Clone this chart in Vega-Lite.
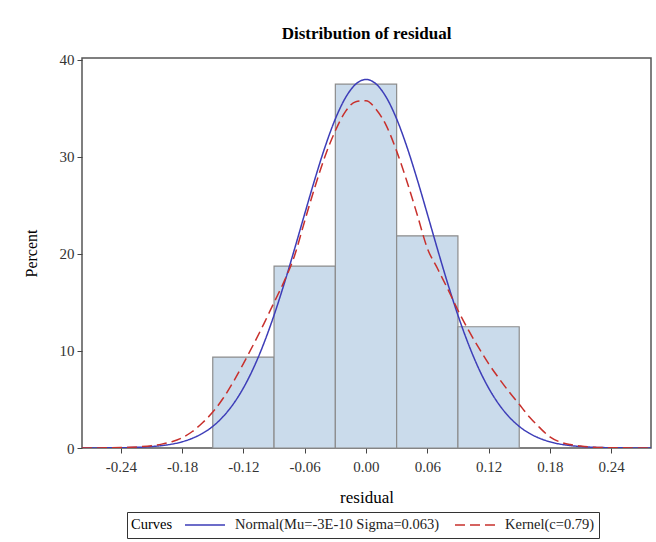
{
  "$schema": "https://vega.github.io/schema/vega-lite/v6.json",
  "autosize": "none",
  "width": 569,
  "height": 390,
  "padding": {"left": 82, "top": 58, "right": 5, "bottom": 94},
  "background": "white",
  "title": {"text": "Distribution of residual", "font": "Liberation Serif", "fontSize": 17, "fontWeight": "bold", "color": "#000", "offset": 10, "anchor": "middle"},
  "config": {
    "view": {"stroke": "#555", "strokeWidth": 1.5},
    "axis": {"labelFont": "Liberation Serif", "titleFont": "Liberation Serif", "labelFontSize": 15, "titleFontSize": 16, "titleFontWeight": "normal", "labelColor": "#333", "titleColor": "#000", "tickColor": "#444", "tickSize": 5, "grid": false, "domain": false},
    "legend": {"labelFont": "Liberation Serif", "titleFont": "Liberation Serif", "labelFontSize": 14.5, "titleFontSize": 14.5, "titleFontWeight": "normal", "labelColor": "#222", "titleColor": "#000", "labelLimit": 0}
  },
  "datasets": {
    "bars": [
      {"start": -0.15, "end": -0.09, "pct": 9.375},
      {"start": -0.09, "end": -0.03, "pct": 18.75},
      {"start": -0.03, "end": 0.03, "pct": 37.5},
      {"start": 0.03, "end": 0.09, "pct": 21.875},
      {"start": 0.09, "end": 0.15, "pct": 12.5}
    ],
    "curves": [
      {"x": -0.278, "pct": 0.003, "curve": "Normal(Mu=-3E-10 Sigma=0.063)"},
      {"x": -0.25, "pct": 0.016, "curve": "Normal(Mu=-3E-10 Sigma=0.063)"},
      {"x": -0.24, "pct": 0.027, "curve": "Normal(Mu=-3E-10 Sigma=0.063)"},
      {"x": -0.23, "pct": 0.05, "curve": "Normal(Mu=-3E-10 Sigma=0.063)"},
      {"x": -0.22, "pct": 0.085, "curve": "Normal(Mu=-3E-10 Sigma=0.063)"},
      {"x": -0.21, "pct": 0.15, "curve": "Normal(Mu=-3E-10 Sigma=0.063)"},
      {"x": -0.2, "pct": 0.25, "curve": "Normal(Mu=-3E-10 Sigma=0.063)"},
      {"x": -0.19, "pct": 0.4, "curve": "Normal(Mu=-3E-10 Sigma=0.063)"},
      {"x": -0.18, "pct": 0.64, "curve": "Normal(Mu=-3E-10 Sigma=0.063)"},
      {"x": -0.17, "pct": 1.0, "curve": "Normal(Mu=-3E-10 Sigma=0.063)"},
      {"x": -0.16, "pct": 1.51, "curve": "Normal(Mu=-3E-10 Sigma=0.063)"},
      {"x": -0.15, "pct": 2.23, "curve": "Normal(Mu=-3E-10 Sigma=0.063)"},
      {"x": -0.14, "pct": 3.22, "curve": "Normal(Mu=-3E-10 Sigma=0.063)"},
      {"x": -0.13, "pct": 4.52, "curve": "Normal(Mu=-3E-10 Sigma=0.063)"},
      {"x": -0.12, "pct": 6.19, "curve": "Normal(Mu=-3E-10 Sigma=0.063)"},
      {"x": -0.11, "pct": 8.27, "curve": "Normal(Mu=-3E-10 Sigma=0.063)"},
      {"x": -0.1, "pct": 10.78, "curve": "Normal(Mu=-3E-10 Sigma=0.063)"},
      {"x": -0.09, "pct": 13.69, "curve": "Normal(Mu=-3E-10 Sigma=0.063)"},
      {"x": -0.08, "pct": 16.96, "curve": "Normal(Mu=-3E-10 Sigma=0.063)"},
      {"x": -0.07, "pct": 20.49, "curve": "Normal(Mu=-3E-10 Sigma=0.063)"},
      {"x": -0.06, "pct": 24.14, "curve": "Normal(Mu=-3E-10 Sigma=0.063)"},
      {"x": -0.05, "pct": 27.73, "curve": "Normal(Mu=-3E-10 Sigma=0.063)"},
      {"x": -0.04, "pct": 31.06, "curve": "Normal(Mu=-3E-10 Sigma=0.063)"},
      {"x": -0.03, "pct": 33.92, "curve": "Normal(Mu=-3E-10 Sigma=0.063)"},
      {"x": -0.02, "pct": 36.12, "curve": "Normal(Mu=-3E-10 Sigma=0.063)"},
      {"x": -0.01, "pct": 37.51, "curve": "Normal(Mu=-3E-10 Sigma=0.063)"},
      {"x": 0.0, "pct": 37.99, "curve": "Normal(Mu=-3E-10 Sigma=0.063)"},
      {"x": 0.01, "pct": 37.51, "curve": "Normal(Mu=-3E-10 Sigma=0.063)"},
      {"x": 0.02, "pct": 36.12, "curve": "Normal(Mu=-3E-10 Sigma=0.063)"},
      {"x": 0.03, "pct": 33.92, "curve": "Normal(Mu=-3E-10 Sigma=0.063)"},
      {"x": 0.04, "pct": 31.06, "curve": "Normal(Mu=-3E-10 Sigma=0.063)"},
      {"x": 0.05, "pct": 27.73, "curve": "Normal(Mu=-3E-10 Sigma=0.063)"},
      {"x": 0.06, "pct": 24.14, "curve": "Normal(Mu=-3E-10 Sigma=0.063)"},
      {"x": 0.07, "pct": 20.49, "curve": "Normal(Mu=-3E-10 Sigma=0.063)"},
      {"x": 0.08, "pct": 16.96, "curve": "Normal(Mu=-3E-10 Sigma=0.063)"},
      {"x": 0.09, "pct": 13.69, "curve": "Normal(Mu=-3E-10 Sigma=0.063)"},
      {"x": 0.1, "pct": 10.78, "curve": "Normal(Mu=-3E-10 Sigma=0.063)"},
      {"x": 0.11, "pct": 8.27, "curve": "Normal(Mu=-3E-10 Sigma=0.063)"},
      {"x": 0.12, "pct": 6.19, "curve": "Normal(Mu=-3E-10 Sigma=0.063)"},
      {"x": 0.13, "pct": 4.52, "curve": "Normal(Mu=-3E-10 Sigma=0.063)"},
      {"x": 0.14, "pct": 3.22, "curve": "Normal(Mu=-3E-10 Sigma=0.063)"},
      {"x": 0.15, "pct": 2.23, "curve": "Normal(Mu=-3E-10 Sigma=0.063)"},
      {"x": 0.16, "pct": 1.51, "curve": "Normal(Mu=-3E-10 Sigma=0.063)"},
      {"x": 0.17, "pct": 1.0, "curve": "Normal(Mu=-3E-10 Sigma=0.063)"},
      {"x": 0.18, "pct": 0.64, "curve": "Normal(Mu=-3E-10 Sigma=0.063)"},
      {"x": 0.19, "pct": 0.4, "curve": "Normal(Mu=-3E-10 Sigma=0.063)"},
      {"x": 0.2, "pct": 0.25, "curve": "Normal(Mu=-3E-10 Sigma=0.063)"},
      {"x": 0.21, "pct": 0.15, "curve": "Normal(Mu=-3E-10 Sigma=0.063)"},
      {"x": 0.22, "pct": 0.085, "curve": "Normal(Mu=-3E-10 Sigma=0.063)"},
      {"x": 0.23, "pct": 0.05, "curve": "Normal(Mu=-3E-10 Sigma=0.063)"},
      {"x": 0.24, "pct": 0.027, "curve": "Normal(Mu=-3E-10 Sigma=0.063)"},
      {"x": 0.25, "pct": 0.016, "curve": "Normal(Mu=-3E-10 Sigma=0.063)"},
      {"x": 0.279, "pct": 0.003, "curve": "Normal(Mu=-3E-10 Sigma=0.063)"},
      {"x": -0.278, "pct": 0.0, "curve": "Kernel(c=0.79)"},
      {"x": -0.25, "pct": 0.02, "curve": "Kernel(c=0.79)"},
      {"x": -0.24, "pct": 0.04, "curve": "Kernel(c=0.79)"},
      {"x": -0.23, "pct": 0.08, "curve": "Kernel(c=0.79)"},
      {"x": -0.22, "pct": 0.14, "curve": "Kernel(c=0.79)"},
      {"x": -0.21, "pct": 0.24, "curve": "Kernel(c=0.79)"},
      {"x": -0.2, "pct": 0.4, "curve": "Kernel(c=0.79)"},
      {"x": -0.19, "pct": 0.65, "curve": "Kernel(c=0.79)"},
      {"x": -0.18, "pct": 1.05, "curve": "Kernel(c=0.79)"},
      {"x": -0.17, "pct": 1.7, "curve": "Kernel(c=0.79)"},
      {"x": -0.16, "pct": 2.6, "curve": "Kernel(c=0.79)"},
      {"x": -0.15, "pct": 3.7, "curve": "Kernel(c=0.79)"},
      {"x": -0.14, "pct": 5.1, "curve": "Kernel(c=0.79)"},
      {"x": -0.13, "pct": 6.8, "curve": "Kernel(c=0.79)"},
      {"x": -0.12, "pct": 8.7, "curve": "Kernel(c=0.79)"},
      {"x": -0.11, "pct": 10.7, "curve": "Kernel(c=0.79)"},
      {"x": -0.1, "pct": 12.8, "curve": "Kernel(c=0.79)"},
      {"x": -0.09, "pct": 15.0, "curve": "Kernel(c=0.79)"},
      {"x": -0.08, "pct": 17.2, "curve": "Kernel(c=0.79)"},
      {"x": -0.07, "pct": 19.8, "curve": "Kernel(c=0.79)"},
      {"x": -0.06, "pct": 23.4, "curve": "Kernel(c=0.79)"},
      {"x": -0.05, "pct": 26.9, "curve": "Kernel(c=0.79)"},
      {"x": -0.04, "pct": 30.1, "curve": "Kernel(c=0.79)"},
      {"x": -0.03, "pct": 32.7, "curve": "Kernel(c=0.79)"},
      {"x": -0.02, "pct": 34.7, "curve": "Kernel(c=0.79)"},
      {"x": -0.01, "pct": 35.7, "curve": "Kernel(c=0.79)"},
      {"x": 0.0, "pct": 35.8, "curve": "Kernel(c=0.79)"},
      {"x": 0.01, "pct": 34.9, "curve": "Kernel(c=0.79)"},
      {"x": 0.02, "pct": 33.2, "curve": "Kernel(c=0.79)"},
      {"x": 0.03, "pct": 30.6, "curve": "Kernel(c=0.79)"},
      {"x": 0.04, "pct": 27.5, "curve": "Kernel(c=0.79)"},
      {"x": 0.05, "pct": 24.1, "curve": "Kernel(c=0.79)"},
      {"x": 0.06, "pct": 20.6, "curve": "Kernel(c=0.79)"},
      {"x": 0.07, "pct": 18.5, "curve": "Kernel(c=0.79)"},
      {"x": 0.08, "pct": 16.4, "curve": "Kernel(c=0.79)"},
      {"x": 0.09, "pct": 14.2, "curve": "Kernel(c=0.79)"},
      {"x": 0.1, "pct": 12.2, "curve": "Kernel(c=0.79)"},
      {"x": 0.11, "pct": 10.4, "curve": "Kernel(c=0.79)"},
      {"x": 0.12, "pct": 8.7, "curve": "Kernel(c=0.79)"},
      {"x": 0.13, "pct": 7.2, "curve": "Kernel(c=0.79)"},
      {"x": 0.14, "pct": 5.8, "curve": "Kernel(c=0.79)"},
      {"x": 0.15, "pct": 4.5, "curve": "Kernel(c=0.79)"},
      {"x": 0.16, "pct": 3.2, "curve": "Kernel(c=0.79)"},
      {"x": 0.17, "pct": 2.1, "curve": "Kernel(c=0.79)"},
      {"x": 0.18, "pct": 1.15, "curve": "Kernel(c=0.79)"},
      {"x": 0.19, "pct": 0.62, "curve": "Kernel(c=0.79)"},
      {"x": 0.2, "pct": 0.35, "curve": "Kernel(c=0.79)"},
      {"x": 0.21, "pct": 0.2, "curve": "Kernel(c=0.79)"},
      {"x": 0.22, "pct": 0.1, "curve": "Kernel(c=0.79)"},
      {"x": 0.24, "pct": 0.03, "curve": "Kernel(c=0.79)"},
      {"x": 0.279, "pct": 0.0, "curve": "Kernel(c=0.79)"}
    ]
  },
  "layer": [
    {
      "data": {"name": "bars"},
      "mark": {"type": "rect", "fill": "#cadbeb", "stroke": "#8c8c8c", "strokeWidth": 1.2},
      "encoding": {
        "x": {"field": "start", "type": "quantitative", "scale": {"domain": [-0.278, 0.279], "nice": false, "zero": false},
          "axis": {"title": "residual", "values": [-0.24, -0.18, -0.12, -0.06, 0, 0.06, 0.12, 0.18, 0.24], "labelExpr": "replace(format(datum.value, '.2f'), '\u2212', '-')", "labelPadding": 6, "titlePadding": 15, "titleFontSize": 17}},
        "x2": {"field": "end"},
        "y": {"field": "pct", "type": "quantitative", "scale": {"domain": [0, 40.2], "nice": false},
          "axis": {"title": "Percent", "values": [0, 10, 20, 30, 40], "labelPadding": 3, "titlePadding": 20}},
        "y2": {"datum": 0}
      }
    },
    {
      "data": {"name": "curves"},
      "mark": {"type": "line", "interpolate": "monotone", "strokeWidth": 1.5, "clip": true},
      "encoding": {
        "x": {"field": "x", "type": "quantitative"},
        "y": {"field": "pct", "type": "quantitative"},
        "color": {"field": "curve", "type": "nominal",
          "scale": {"domain": ["Normal(Mu=-3E-10 Sigma=0.063)", "Kernel(c=0.79)"], "range": ["#3d3db8", "#c8302c"]},
          "legend": {"title": "Curves", "orient": "none", "legendX": 45, "legendY": 454, "direction": "horizontal", "titleOrient": "left", "symbolType": "stroke", "symbolSize": 1600, "symbolStrokeWidth": 1.5, "clipHeight": 18, "strokeColor": "#333", "padding": 4, "columnPadding": 14, "labelOffset": 9, "titlePadding": 11}},
        "strokeDash": {"field": "curve", "type": "nominal",
          "scale": {"domain": ["Normal(Mu=-3E-10 Sigma=0.063)", "Kernel(c=0.79)"], "range": [[1, 0], [10, 5]]},
          "legend": {"title": "Curves", "orient": "none", "legendX": 45, "legendY": 454, "direction": "horizontal", "titleOrient": "left", "symbolType": "stroke", "symbolSize": 1600, "symbolStrokeWidth": 1.5, "clipHeight": 18, "strokeColor": "#333", "padding": 4, "columnPadding": 14, "labelOffset": 9, "titlePadding": 11}}
      }
    }
  ]
}
